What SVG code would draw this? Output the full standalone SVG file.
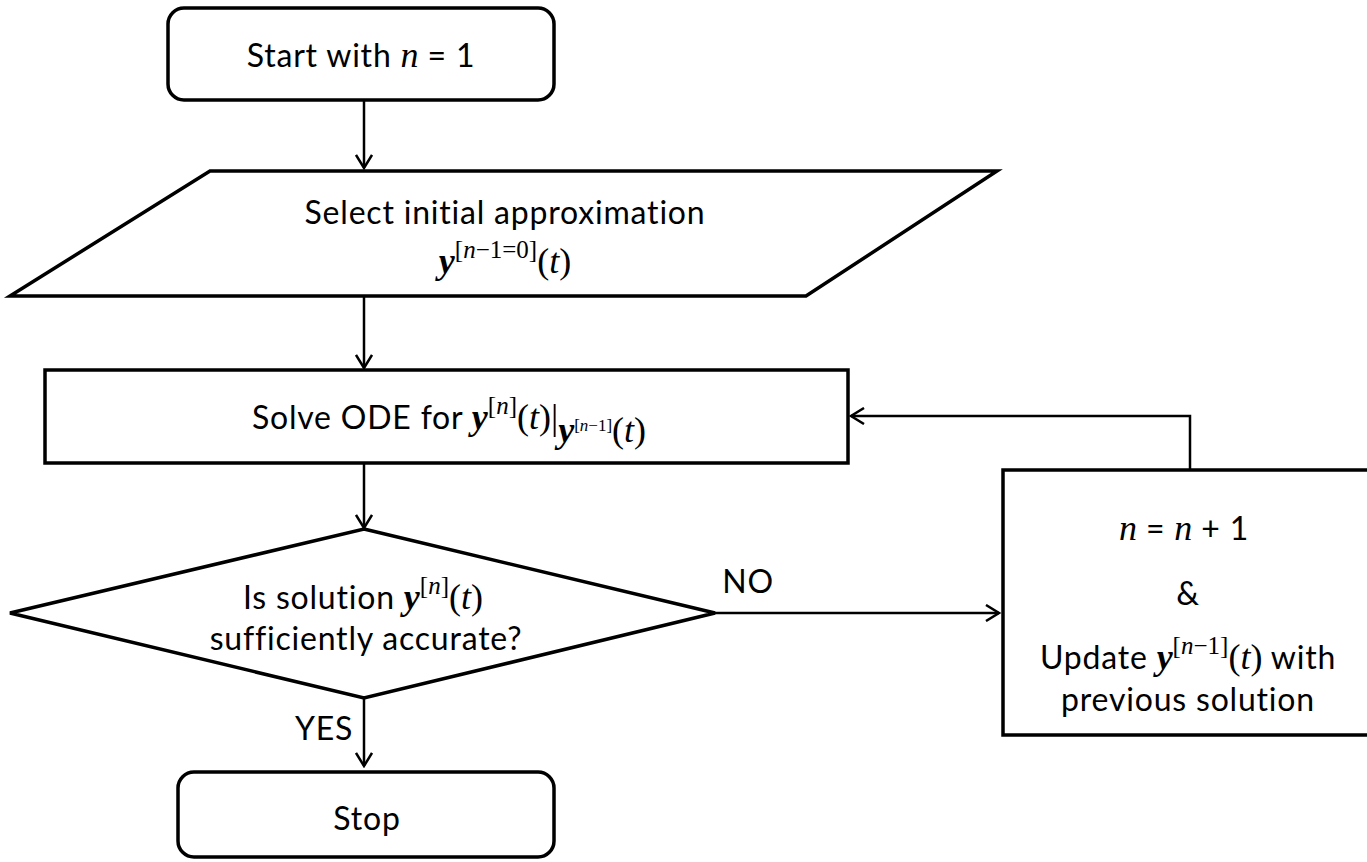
<svg xmlns="http://www.w3.org/2000/svg" width="1367" height="862" viewBox="0 0 1367 862">
<defs>
<marker id="ah" viewBox="0 0 16 18" refX="14" refY="9" markerWidth="16" markerHeight="18" markerUnits="userSpaceOnUse" orient="auto">
<path d="M1,1 L14,9 L1,17" fill="none" stroke="#000" stroke-width="2.5"/>
</marker>
<style>
.shape{fill:#fff;stroke:#000;stroke-width:3.5;stroke-linejoin:miter}
.conn{fill:none;stroke:#000;stroke-width:2.5}
.t{font-family:Lato,"Open Sans","Liberation Sans",sans-serif;font-size:32px;letter-spacing:0.8px;fill:#000}
.m{font-family:"Liberation Serif","DejaVu Serif",serif;font-style:italic;font-size:36px;letter-spacing:0}
.mu{font-family:"Liberation Serif","DejaVu Serif",serif;font-style:normal;font-size:36px;letter-spacing:0}
.b{font-weight:bold}
.s{font-family:"Liberation Serif","DejaVu Serif",serif;font-size:25px;letter-spacing:0}
.ss{font-family:"Liberation Serif","DejaVu Serif",serif;font-size:17px;letter-spacing:0}
</style>
</defs>
<rect width="1367" height="862" fill="#fff"/>
<g id="connectors">
<line class="conn" x1="364" y1="100" x2="364" y2="168" marker-end="url(#ah)"/>
<line class="conn" x1="364" y1="297" x2="364" y2="368" marker-end="url(#ah)"/>
<line class="conn" x1="364" y1="463" x2="364" y2="528" marker-end="url(#ah)"/>
<line class="conn" x1="364" y1="698" x2="364" y2="766" marker-end="url(#ah)"/>
<line class="conn" x1="715" y1="613" x2="999" y2="613" marker-end="url(#ah)"/>
<polyline class="conn" points="1190,470 1190,416 851,416" marker-end="url(#ah)"/>
<text class="t" x="748" y="593" text-anchor="middle">NO</text>
<text class="t" x="324" y="740" text-anchor="middle">YES</text>
</g>
<g id="start">
<rect class="shape" x="168" y="8" width="386" height="92" rx="16"/>
<text class="t" x="361" y="67" text-anchor="middle">Start with <tspan class="m">n</tspan> = 1</text>
</g>
<g id="select">
<polygon class="shape" points="210,171 997,171 806,296 10,296"/>
<text class="t" x="505" y="224" text-anchor="middle">Select initial approximation</text>
<text class="t" x="505" y="273" text-anchor="middle"><tspan class="m b">y</tspan><tspan class="s" dy="-15">[<tspan font-style="italic">n</tspan>−1=0]</tspan><tspan class="mu" dy="15">(<tspan font-style="italic">t</tspan>)</tspan></text>
</g>
<g id="solve">
<rect class="shape" x="45" y="370" width="803" height="93"/>
<text class="t" x="449" y="429" text-anchor="middle">Solve ODE for <tspan class="m b">y</tspan><tspan class="s" dy="-15">[<tspan font-style="italic">n</tspan>]</tspan><tspan class="mu" dy="15">(<tspan font-style="italic">t</tspan>)|</tspan><tspan class="m b" font-size="25" dy="13">y</tspan><tspan class="ss" dy="-11">[<tspan font-style="italic">n</tspan>−1]</tspan><tspan class="mu" font-size="25" dy="11">(<tspan font-style="italic">t</tspan>)</tspan></text>
</g>
<g id="check">
<polygon class="shape" points="364,529 715,613 364,698 10,613"/>
<text class="t" x="363" y="609" text-anchor="middle">Is solution <tspan class="m b">y</tspan><tspan class="s" dy="-15">[<tspan font-style="italic">n</tspan>]</tspan><tspan class="mu" dy="15">(<tspan font-style="italic">t</tspan>)</tspan></text>
<text class="t" x="366" y="650" text-anchor="middle">sufficiently accurate?</text>
</g>
<g id="update">
<rect class="shape" x="1003" y="470" width="372" height="265"/>
<text class="t" x="1184" y="540" text-anchor="middle"><tspan class="m">n</tspan> = <tspan class="m">n</tspan> + 1</text>
<text class="t" x="1188" y="605" text-anchor="middle">&amp;</text>
<text class="t" x="1188" y="669" text-anchor="middle">Update <tspan class="m b">y</tspan><tspan class="s" dy="-15">[<tspan font-style="italic">n</tspan>−1]</tspan><tspan class="mu" dy="15">(<tspan font-style="italic">t</tspan>)</tspan> with</text>
<text class="t" x="1188" y="711" text-anchor="middle">previous solution</text>
</g>
<g id="stop">
<rect class="shape" x="178" y="772" width="376" height="85" rx="16"/>
<text class="t" x="367" y="830" text-anchor="middle">Stop</text>
</g>
</svg>
